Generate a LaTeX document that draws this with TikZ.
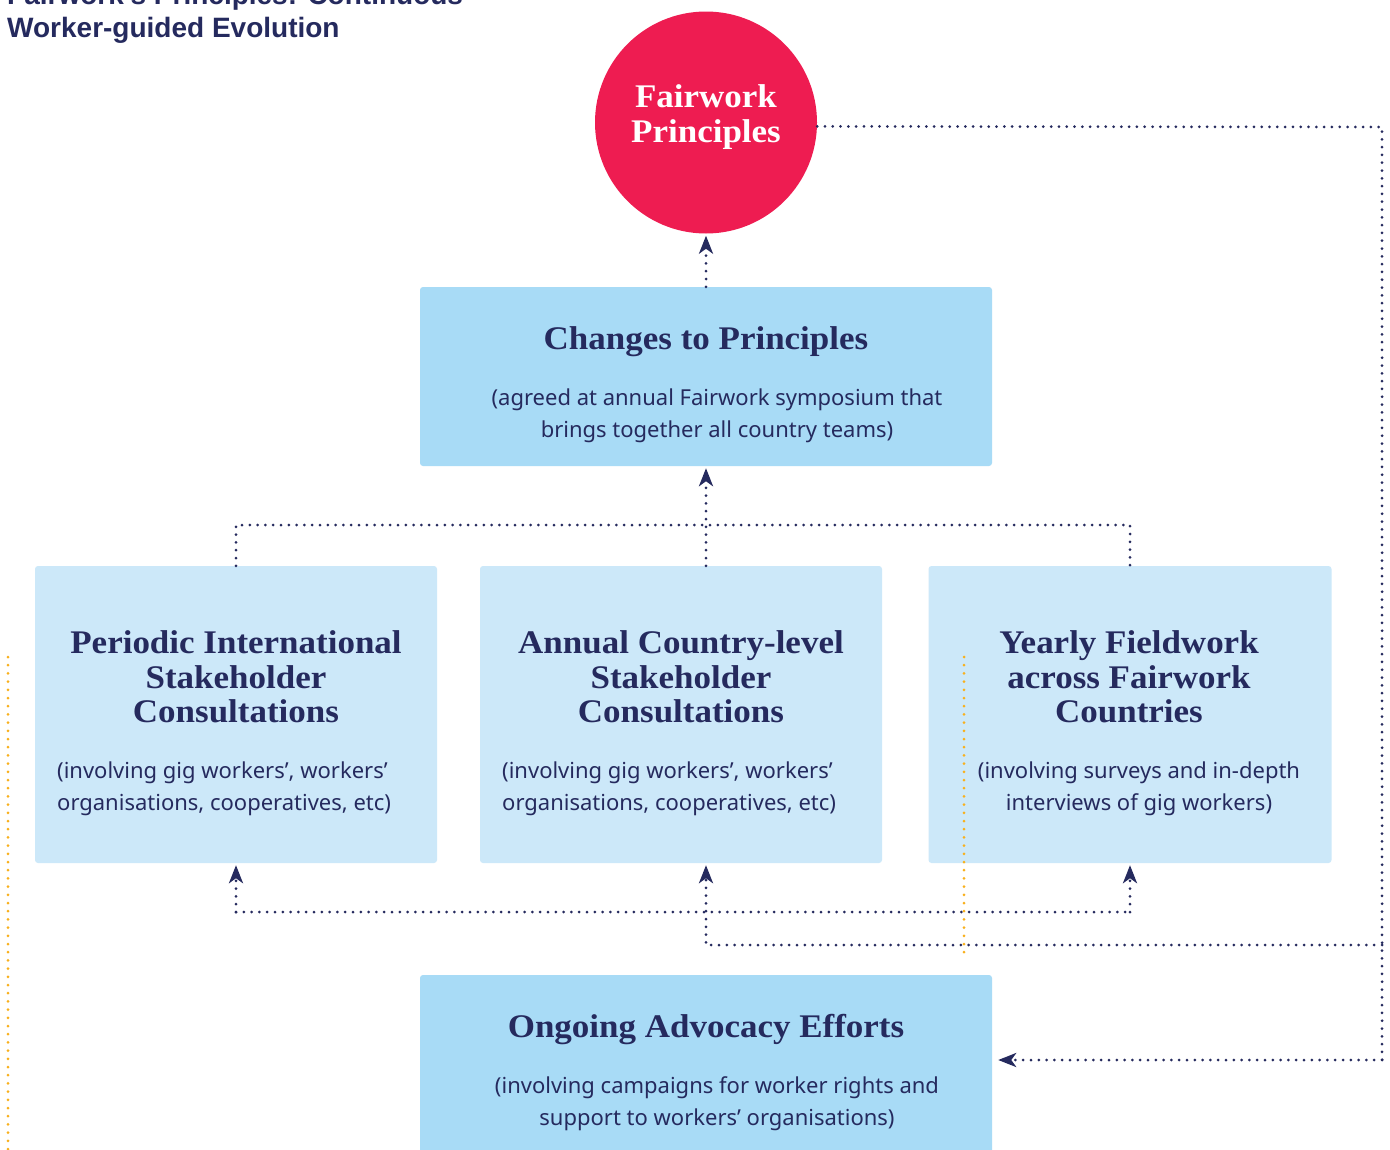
\documentclass[tikz,border=0pt]{standalone}
\usepackage{fontspec}
\setmainfont{Noto Sans}
\newfontfamily\headfont[FakeStretch=1.06]{Liberation Serif}
\newfontfamily\titlefont{Liberation Sans}
\usetikzlibrary{arrows.meta}
\definecolor{navy}{HTML}{252A5E}
\definecolor{pinkred}{HTML}{EE1C51}
\definecolor{boxdark}{HTML}{A8DBF6}
\definecolor{boxlight}{HTML}{CCE8F9}
\definecolor{dotorange}{HTML}{F9B01C}
\tikzset{
  darkbox/.style={rectangle, rounded corners=3pt, fill=boxdark, draw=none, inner sep=0pt},
  lightbox/.style={rectangle, rounded corners=3pt, fill=boxlight, draw=none, inner sep=0pt},
  headtxt/.style={text=navy, font=\headfont\bfseries\fontsize{33}{35}\selectfont, inner sep=0pt},
  bodytxt/.style={text=navy, font=\fontsize{22}{32}\selectfont, inner sep=0pt},
  titletxt/.style={text=navy, font=\titlefont\bfseries\fontsize{28}{33}\selectfont, inner sep=0pt},
  flow/.style={draw=navy, line width=3pt, line cap=round, dash pattern=on 0pt off 7.8pt},
  flowtip/.style={flow, -{Stealth[length=18pt, width=14pt, inset=5pt]}, shorten >=2pt},
  orangedot/.style={draw=dotorange, line width=3pt, line cap=round, dash pattern=on 0pt off 8.2pt}
}
\begin{document}
\begin{tikzpicture}[x=1pt, y=-1pt]
\useasboundingbox (0,0) rectangle (1390,1149);
\clip (0,0) rectangle (1390,1149);
\fill[white] (0,0) rectangle (1390,1149);

% title
\node[titletxt, anchor=base west] (title1) at (7,4) {Fairwork’s Principles: Continuous};
\node[titletxt, anchor=base west] (title2) at (7,37) {Worker-guided Evolution};

% circle
\node[circle, fill=pinkred, minimum size=222pt, inner sep=0pt] (pcircle) at (706,122.5) {};
\node[headtxt, text=white, anchor=base] (ct1) at (706,107) {Fairwork};
\node[headtxt, text=white, anchor=base] (ct2) at (706,142) {Principles};

% boxes
\node[darkbox, minimum width=572pt, minimum height=179pt] (changes) at (706,376.5) {};
\node[lightbox, minimum width=402pt, minimum height=297pt] (periodic) at (236,714.5) {};
\node[lightbox, minimum width=402pt, minimum height=297pt] (annual) at (681,714.5) {};
\node[lightbox, minimum width=403pt, minimum height=297pt] (yearly) at (1130,714.5) {};
\node[darkbox, minimum width=572pt, minimum height=190pt] (ongoing) at (706,1070) {};

% changes text
\node[headtxt, anchor=base] (chh) at (706,349) {Changes to Principles};
\node[bodytxt, anchor=base] (chb1) at (717,405) {(agreed at annual Fairwork symposium that};
\node[bodytxt, anchor=base] (chb2) at (717,437) {brings together all country teams)};

% periodic text
\node[headtxt, anchor=base] (peh1) at (236,653) {Periodic International};
\node[headtxt, anchor=base] (peh2) at (236,688) {Stakeholder};
\node[headtxt, anchor=base] (peh3) at (236,722) {Consultations};
\node[bodytxt, anchor=base west] (peb1) at (57,778) {(involving gig workers’, workers’};
\node[bodytxt, anchor=base west] (peb2) at (57,810) {organisations, cooperatives, etc)};

% annual text
\node[headtxt, anchor=base] (anh1) at (681,653) {Annual Country-level};
\node[headtxt, anchor=base] (anh2) at (681,688) {Stakeholder};
\node[headtxt, anchor=base] (anh3) at (681,722) {Consultations};
\node[bodytxt, anchor=base west] (anb1) at (502,778) {(involving gig workers’, workers’};
\node[bodytxt, anchor=base west] (anb2) at (502,810) {organisations, cooperatives, etc)};

% yearly text
\node[headtxt, anchor=base] (yeh1) at (1129,653) {Yearly Fieldwork};
\node[headtxt, anchor=base] (yeh2) at (1129,688) {across Fairwork};
\node[headtxt, anchor=base] (yeh3) at (1129,722) {Countries};
\node[bodytxt, anchor=base] (yeb1) at (1139,778) {(involving surveys and in-depth};
\node[bodytxt, anchor=base] (yeb2) at (1139,810) {interviews of gig workers)};

% ongoing text
\node[headtxt, anchor=base] (onh) at (706,1037) {Ongoing Advocacy Efforts};
\node[bodytxt, anchor=base] (onb1) at (717,1093) {(involving campaigns for worker rights and};
\node[bodytxt, anchor=base] (onb2) at (717,1125) {support to workers’ organisations)};

% connector coordinates
\coordinate (tl) at (236,525);
\coordinate (tr) at (1130,525);
\coordinate (rt) at (1382,127);
\coordinate (rb) at (1382,1060);
\coordinate (rm) at (1382,945);
\coordinate (bl) at (236,912);
\coordinate (br) at (1130,912);

% connectors
\draw[flowtip] (changes.north) -- (pcircle.south);
\draw[flowtip] (changes.south |- annual.north) -- (changes.south);
\draw[flow] (periodic.north) -- (tl) -- (tr) -- (yearly.north);
\draw[flow] (pcircle.-2.6) -- (rt) -- (rb);
\draw[flowtip, shorten >=6pt] (rb) -- (ongoing.east |- rb);
\draw[flowtip] (rm) -- (changes.south |- rm) -- (changes.south |- annual.south);
\draw[flow] (bl) -- (br);
\draw[flowtip] (bl) -- (periodic.south);
\draw[flowtip] (br) -- (yearly.south);

% orange dotted guides
\coordinate (o1a) at (8,657);
\coordinate (o1b) at (8,1149);
\coordinate (o2a) at (964,657);
\coordinate (o2b) at (964,960);
\draw[orangedot] (o1a) -- (o1b);
\draw[orangedot] (o2a) -- (o2b);
\end{tikzpicture}
\end{document}
